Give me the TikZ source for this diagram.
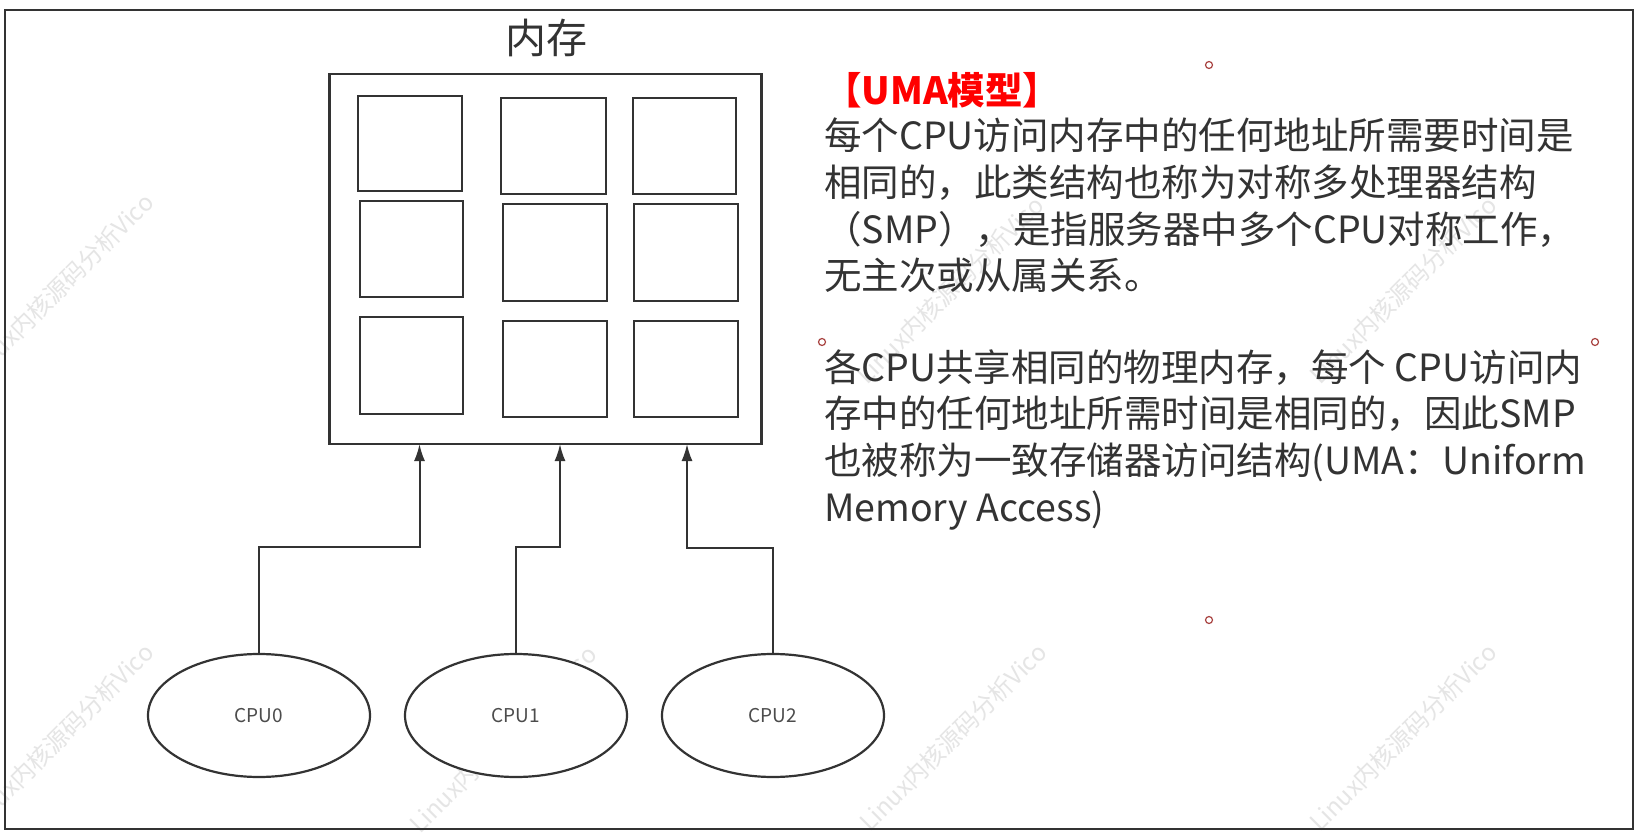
\documentclass[tikz,border=0pt]{standalone}
\usepackage{fontspec}
\setmainfont{Noto Sans CJK SC}
\usetikzlibrary{shapes.geometric,arrows.meta}
\definecolor{ink}{HTML}{333333}
\definecolor{handlered}{HTML}{A94442}
\definecolor{titlered}{HTML}{FF0000}
\begin{document}
\begin{tikzpicture}[x=1pt,y=-1pt,
  frame/.style={draw=ink,line width=2.6pt},
  cell/.style={draw=ink,line width=2.6pt},
  membox/.style={draw=ink,fill=white,line width=2.6pt,minimum width=432pt,minimum height=370pt,inner sep=0pt,outer sep=0pt},
  cpu/.style={ellipse,draw=ink,fill=white,line width=2.2pt,minimum width=222pt,minimum height=123pt,inner sep=0pt,outer sep=0pt,font=\fontsize{19}{22}\selectfont,text=black!70},
  conn/.style={draw=ink,line width=2pt,-{Latex[length=17pt,width=11pt]}},
  body/.style={anchor=base west,inner sep=0pt,text=ink,font=\fontsize{37.5}{44}\selectfont},
  wm/.style={rotate=45,text=black!10,inner sep=0pt,font=\fontsize{24}{26}\selectfont},
  handle/.style={draw=handlered,line width=1.2pt,circle,minimum size=7pt,inner sep=0pt}
]
\fill[white] (0,0) rectangle (1642,837);
\useasboundingbox (0,0) rectangle (1642,837);
\clip (0,0) rectangle (1642,837);

% watermarks (beneath the filled shapes)
\node[wm] (w1) at (60,287) {Linux内核源码分析Vico};
\node[wm] (w2) at (950,290) {Linux内核源码分析Vico};
\node[wm] (w3) at (1403,290) {Linux内核源码分析Vico};
\node[wm] (w4) at (60,737) {Linux内核源码分析Vico};
\node[wm] (w5) at (503,739) {Linux内核源码分析Vico};
\node[wm] (w6) at (953,737) {Linux内核源码分析Vico};
\node[wm] (w7) at (1403,737) {Linux内核源码分析Vico};

% outer frame
\draw[frame] (5,10) rectangle (1633,829);

% memory
\node[anchor=base,inner sep=0pt,text=ink,font=\fontsize{41}{46}\selectfont] (memtitle) at (546,54) {内存};
\node[membox] (mem) at (545.5,259) {};
\draw[cell] (358,96) rectangle (462,191);
\draw[cell] (501,98) rectangle (606,194);
\draw[cell] (633,98) rectangle (736,194);
\draw[cell] (360,201) rectangle (463,297);
\draw[cell] (503,204) rectangle (607,301);
\draw[cell] (634,204) rectangle (738,301);
\draw[cell] (360,317) rectangle (463,414);
\draw[cell] (503,321) rectangle (607,417);
\draw[cell] (634,321) rectangle (738,417);

% cpus
\node[cpu] (cpu0) at (259,715.5) {CPU0};
\node[cpu] (cpu1) at (516,715.5) {CPU1};
\node[cpu] (cpu2) at (773,715.5) {CPU2};

\draw[conn] (cpu0.north) -- ++(0,-107) -| ([xshift=-126pt]mem.south);
\draw[conn] (cpu1.north) -- ++(0,-107) -| ([xshift=14.5pt]mem.south);
\draw[conn] (cpu2.north) -- ++(0,-106) -| ([xshift=141.5pt]mem.south);

% text
\node[body,text=titlered,font=\fontsize{37.5}{44}\selectfont\bfseries] (title) at (824,105) {【UMA模型】};
\node[body] (l1) at (824,149.5) {每个CPU访问内存中的任何地址所需要时间是};
\node[body] (l2) at (824,196.3) {相同的，此类结构也称为对称多处理器结构};
\node[body] (l3) at (824,243.1) {（SMP），是指服务器中多个CPU对称工作，};
\node[body] (l4) at (824,289.9) {无主次或从属关系。};
\node[body] (l5) at (824,381) {各CPU共享相同的物理内存，每个 CPU访问内};
\node[body] (l6) at (824,427.8) {存中的任何地址所需时间是相同的，因此SMP};
\node[body] (l7) at (824,474.6) {也被称为一致存储器访问结构(UMA：Uniform};
\node[body] (l8) at (824,521.4) {Memory Access)};

% text box handles
\node[handle] (h1) at (1209,65) {};
\node[handle] (h2) at (822,342) {};
\node[handle] (h3) at (1595,342) {};
\node[handle] (h4) at (1209,620) {};
\end{tikzpicture}
\end{document}
